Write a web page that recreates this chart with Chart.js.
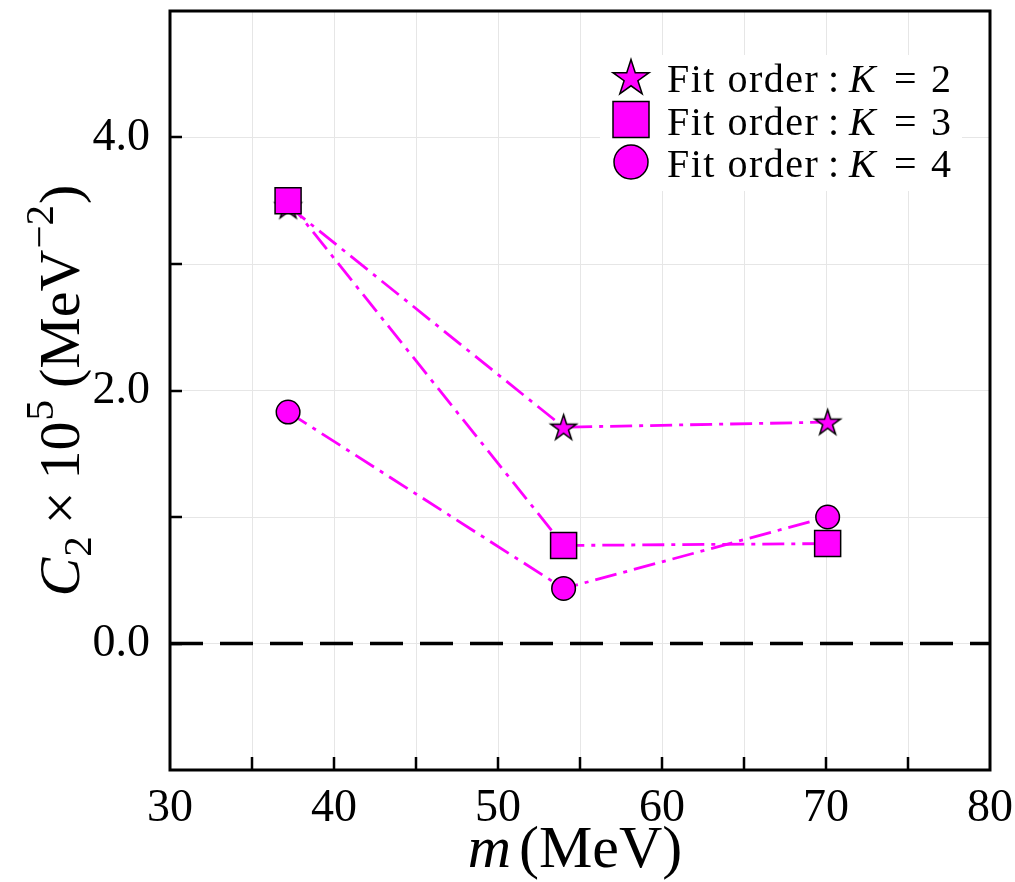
<!DOCTYPE html>
<html>
<head>
<meta charset="utf-8">
<script src="https://cdn.jsdelivr.net/npm/chart.js@4.4.0/dist/chart.umd.min.js"></script>
<style>
  html, body { margin: 0; padding: 0; background: #fff; }
</style>
</head>
<body>
<canvas id="c" width="1015" height="882"></canvas>
<script>
// Pion mass points (MeV) and fitted C2 x 10^5 (MeV^-2) for each fit order
const masses = [37.2, 54.0, 70.1];
const fitK2 = [3.46, 1.71, 1.75];
const fitK3 = [3.50, 0.775, 0.79];
const fitK4 = [1.83, 0.435, 1.00];
const fitOrders = [2, 3, 4];
const xTickLabels = [30, 40, 50, 60, 70, 80];
const yTickLabels = [0, 2, 4];
const zeroLine = [0, 0];
const zeroLineX = [30, 80];

const MAGENTA = '#ff00ff';
const SERIF = '"Liberation Serif", "DejaVu Serif", serif';

// Filled five-pointed star used as a point marker
function makeStar(R) {
  const s = Math.ceil(2 * R + 6);
  const c = document.createElement('canvas');
  c.width = s; c.height = s;
  const g = c.getContext('2d');
  const r = R * 0.382;
  g.beginPath();
  for (let i = 0; i < 10; i++) {
    const rad = i % 2 === 0 ? R : r;
    const a = -Math.PI / 2 + i * Math.PI / 5;
    const px = s / 2 + rad * Math.cos(a);
    const py = s / 2 + rad * Math.sin(a) + R * 0.08;
    if (i === 0) g.moveTo(px, py); else g.lineTo(px, py);
  }
  g.closePath();
  g.fillStyle = MAGENTA;
  g.fill();
  g.lineWidth = 1.5;
  g.strokeStyle = '#000';
  g.lineJoin = 'miter';
  g.stroke();
  return c;
}
const starImg = makeStar(13.5);
const legendStarImg = makeStar(19);

const pts = (ys) => masses.map((m, i) => ({ x: m, y: ys[i] }));
const dashDot = [22, 7, 4, 7];

const markers = {
  2: { pointStyle: starImg, pointRadius: 14 },
  3: { pointStyle: 'rect', pointRadius: 18.4 },
  4: { pointStyle: 'circle', pointRadius: 11.8 }
};

function seriesFor(k, ys, order) {
  return {
    label: 'Fit order : K = ' + k,
    data: pts(ys),
    borderColor: MAGENTA,
    borderWidth: 2.8,
    borderDash: dashDot,
    backgroundColor: MAGENTA,
    pointBackgroundColor: MAGENTA,
    pointBorderColor: '#000',
    pointBorderWidth: 1.5,
    pointStyle: markers[k].pointStyle,
    pointRadius: markers[k].pointRadius,
    pointHoverRadius: markers[k].pointRadius,
    fill: false,
    tension: 0,
    order: order
  };
}

const datasets = [
  seriesFor(4, fitK4, 0),
  seriesFor(3, fitK3, 1),
  seriesFor(2, fitK2, 2),
  {
    label: 'zero',
    data: zeroLineX.map((x, i) => ({ x: x, y: zeroLine[i] })),
    borderColor: '#000',
    borderWidth: 3.5,
    borderDash: [33, 17],
    pointRadius: 0,
    fill: false,
    order: 10
  }
];

// Draws mixed-font text pieces left to right from (x, y)
function drawPieces(ctx, pieces, x, y) {
  let cx = x;
  pieces.forEach(p => {
    ctx.font = p.font;
    ctx.fillText(p.t, cx, y + (p.dy || 0));
    cx += ctx.measureText(p.t).width + (p.gap || 0);
  });
  return cx;
}
function piecesWidth(ctx, pieces) {
  let w = 0;
  pieces.forEach(p => { ctx.font = p.font; w += ctx.measureText(p.t).width + (p.gap || 0); });
  return w;
}

const framePlugin = {
  id: 'frameAndLabels',
  afterDraw(chart) {
    const ctx = chart.ctx;
    const a = chart.chartArea;
    const xs = chart.scales.x, ys = chart.scales.y;
    ctx.save();
    ctx.strokeStyle = '#000';
    ctx.lineCap = 'butt';

    // inward ticks
    ctx.lineWidth = 2.5;
    ctx.beginPath();
    for (let v = 35; v < 80; v += 5) {
      const px = Math.round(xs.getPixelForValue(v));
      ctx.moveTo(px, a.bottom);
      ctx.lineTo(px, a.bottom - 13);
    }
    for (let v = 0; v <= 4; v += 1) {
      const py = Math.round(ys.getPixelForValue(v));
      ctx.moveTo(a.left, py);
      ctx.lineTo(a.left + 12, py);
    }
    ctx.stroke();

    // frame
    ctx.lineWidth = 3;
    ctx.strokeRect(a.left, a.top, a.right - a.left, a.bottom - a.top);

    // legend
    ctx.fillStyle = '#fff';
    ctx.fillRect(600, 55, 362, 136);
    fitOrders.forEach((k, i) => {
      const cy = 77 + i * 42.5;
      const mx = 631;
      if (k === 2) {
        ctx.drawImage(legendStarImg, mx - legendStarImg.width / 2, cy - legendStarImg.height / 2);
      } else if (k === 3) {
        ctx.fillStyle = MAGENTA;
        ctx.fillRect(mx - 18, cy - 18, 36, 36);
        ctx.lineWidth = 1.5;
        ctx.strokeStyle = '#000';
        ctx.strokeRect(mx - 18, cy - 18, 36, 36);
      } else {
        ctx.beginPath();
        ctx.arc(mx, cy, 17, 0, Math.PI * 2);
        ctx.fillStyle = MAGENTA;
        ctx.fill();
        ctx.lineWidth = 1.5;
        ctx.strokeStyle = '#000';
        ctx.stroke();
      }
      ctx.fillStyle = '#000';
      ctx.textBaseline = 'alphabetic';
      ctx.textAlign = 'left';
      const base = cy + 15;
      const f = '40px ' + SERIF;
      ctx.letterSpacing = '1.5px';
      drawPieces(ctx, [{ t: 'Fit order', font: f }], 667, base);
      ctx.letterSpacing = '0px';
      drawPieces(ctx, [{ t: ':', font: f }], 828, base);
      drawPieces(ctx, [{ t: 'K', font: 'italic ' + f }], 849, base);
      drawPieces(ctx, [{ t: '=', font: f }], 894, base);
      drawPieces(ctx, [{ t: String(k), font: f }], 931, base);
    });

    // axis titles
    ctx.fillStyle = '#000';
    ctx.textAlign = 'left';
    ctx.textBaseline = 'alphabetic';
    const big = '58px ' + SERIF, small = '41px ' + SERIF;
    const xt = [
      { t: 'm', font: 'italic ' + '60px ' + SERIF, gap: 8 },
      { t: '(MeV)', font: '60px ' + SERIF }
    ];
    const xw = piecesWidth(ctx, xt);
    drawPieces(ctx, xt, (a.left + a.right) / 2 - xw / 2 - 5, 867);

    const yt = [
      { t: 'C', font: 'italic ' + big, gap: 1 },
      { t: '2', font: small, dy: 12, gap: 12 },
      { t: '\u00d7', font: big, gap: 12 },
      { t: '10', font: big, gap: 1 },
      { t: '5', font: small, dy: -26, gap: 12 },
      { t: '(MeV', font: big, gap: 1 },
      { t: '\u22122', font: small, dy: -26, gap: 1 },
      { t: ')', font: big }
    ];
    const yw = piecesWidth(ctx, yt);
    ctx.translate(79, (a.top + a.bottom) / 2);
    ctx.rotate(-Math.PI / 2);
    drawPieces(ctx, yt, -yw / 2, 0);
    ctx.restore();
  }
};

new Chart(document.getElementById('c'), {
  type: 'line',
  data: { datasets: datasets },
  options: {
    responsive: false,
    animation: false,
    devicePixelRatio: 1,
    layout: { autoPadding: false, padding: { left: 0, top: 11, right: 25, bottom: 0 } },
    plugins: { legend: { display: false }, tooltip: { enabled: false } },
    scales: {
      x: {
        type: 'linear',
        min: 30, max: 80,
        afterFit(scale) {
          scale.height = 112;
          scale.paddingLeft = 0; scale.paddingRight = 0;
          scale.paddingTop = 0; scale.paddingBottom = 0;
        },
        ticks: {
          stepSize: 5,
          autoSkip: false,
          maxRotation: 0,
          padding: 11,
          color: '#000',
          font: { family: SERIF, size: 46 },
          callback: (v) => xTickLabels.includes(v) ? String(v) : ''
        },
        grid: { color: '#e6e6e6', lineWidth: 1, drawTicks: false },
        border: { display: false }
      },
      y: {
        type: 'linear',
        min: -1, max: 5,
        afterFit(scale) {
          scale.width = 170;
          scale.paddingLeft = 0; scale.paddingRight = 0;
          scale.paddingTop = 0; scale.paddingBottom = 0;
        },
        ticks: {
          stepSize: 1,
          autoSkip: false,
          padding: 20,
          color: '#000',
          font: { family: SERIF, size: 46 },
          callback: (v) => yTickLabels.includes(v) ? v.toFixed(1) : ''
        },
        grid: { color: '#e6e6e6', lineWidth: 1, drawTicks: false },
        border: { display: false }
      }
    }
  },
  plugins: [framePlugin]
});
</script>
</body>
</html>
